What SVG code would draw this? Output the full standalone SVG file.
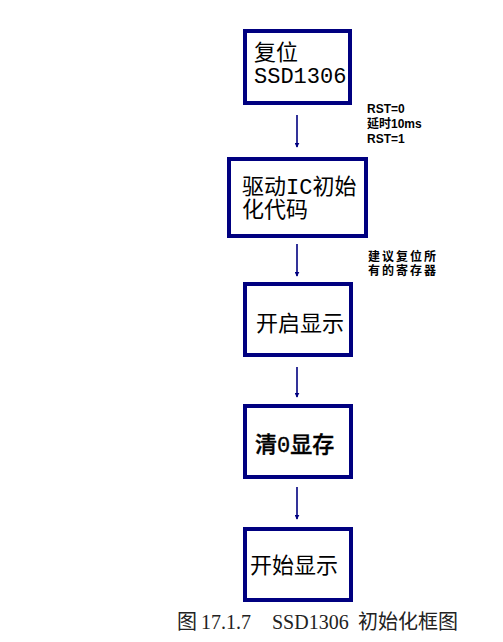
<svg xmlns="http://www.w3.org/2000/svg" width="503" height="642" viewBox="0 0 503 642">
<defs>
<style>
.box{fill:#fff;stroke:#000080;stroke-width:4}
.lbl{font-family:"Liberation Mono","Noto Sans CJK SC",monospace;font-size:22px;fill:#000}
.note{font-family:"Liberation Sans","Noto Sans CJK SC",sans-serif;font-size:12px;font-weight:bold;fill:#000}
.conn{stroke:#000080;stroke-width:1.6;fill:none;marker-end:url(#ah)}
.cap{font-family:"Liberation Serif","Noto Sans CJK SC",serif;font-size:20px;fill:#222}
</style>
<marker id="ah" viewBox="0 0 8 8" refX="7" refY="4" markerWidth="5" markerHeight="5" orient="auto" markerUnits="userSpaceOnUse">
<path d="M0,0 L8,4 L0,8 Z" fill="#000080"/>
</marker>
</defs>
<rect width="503" height="642" fill="#fff"/>
<g id="n1">
<rect class="box" x="245" y="31" width="105" height="72"/>
<text class="lbl" x="254" y="60">复位</text>
<text class="lbl" x="254" y="83">SSD1306</text>
</g>
<g id="n2">
<rect class="box" x="229" y="159" width="137" height="77"/>
<text class="lbl" x="242" y="194">驱动IC初始</text>
<text class="lbl" x="242" y="217">化代码</text>
</g>
<g id="n3">
<rect class="box" x="245" y="284" width="106" height="71"/>
<text class="lbl" x="256" y="331">开启显示</text>
</g>
<g id="n4">
<rect class="box" x="245" y="406" width="106" height="71"/>
<text class="lbl" x="255" y="452" font-weight="500" stroke="#000" stroke-width="0.4">清0显存</text>
</g>
<g id="n5">
<rect class="box" x="245" y="529" width="106" height="71"/>
<text class="lbl" x="250" y="573">开始显示</text>
</g>
<g id="connectors">
<line class="conn" x1="297" y1="115" x2="297" y2="147"/>
<line class="conn" x1="297" y1="244" x2="297" y2="276"/>
<line class="conn" x1="297" y1="367" x2="297" y2="397"/>
<line class="conn" x1="297" y1="487" x2="297" y2="519"/>
</g>
<g id="notes">
<text class="note" x="367" y="113">RST=0</text>
<text class="note" x="367" y="128">延时10ms</text>
<text class="note" x="367" y="143">RST=1</text>
<text class="note" x="368" y="261" font-size="13.5" letter-spacing="2">建议复位所</text>
<text class="note" x="368" y="275" font-size="13.5" letter-spacing="2">有的寄存器</text>
</g>
<text class="cap" x="177" y="629">图<tspan x="201">17.1.7</tspan><tspan x="272">SSD1306</tspan><tspan x="358">初始化框图</tspan></text>
</svg>
